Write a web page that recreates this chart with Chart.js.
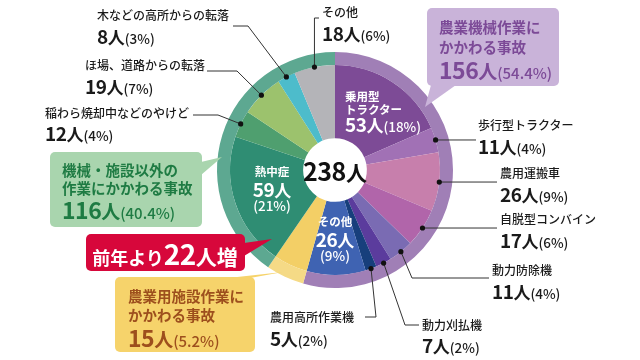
<!DOCTYPE html>
<html lang="ja">
<head>
<meta charset="utf-8">
<script src="https://cdn.jsdelivr.net/npm/chart.js@4.4.1/dist/chart.umd.min.js"></script>
<style>
  html, body { margin: 0; padding: 0; background: #fff; }
  #wrap { position: relative; width: 640px; height: 360px; overflow: hidden; font-family: "Noto Sans CJK JP", "Noto Sans", sans-serif; }
  #c { position: absolute; left: 0; top: 0; }
  .ln { position: absolute; white-space: nowrap; line-height: 1; color: #1a1a1a; }
  .nm { font-size: 12px; font-weight: 500; }
  .vl .n { font-size: 19px; font-weight: 700; letter-spacing: -0.5px; }
  .vl .u { font-size: 17px; font-weight: 700; }
  .vl .p { font-size: 13.5px; font-weight: 500; }
  .wh { color: #fff; }
  .wh.nm { font-size: 11.5px; font-weight: 700; }
  .big .n { font-size: 23px; font-weight: 700; letter-spacing: -0.5px; }
  .big .u { font-size: 19px; font-weight: 700; }
  .big .p { font-size: 15px; font-weight: 500; }
  .bx { font-size: 14.5px; font-weight: 700; }
</style>
</head>
<body>
<div id="wrap"><canvas id="c" width="640" height="360" style="width:640px;height:360px"></canvas></div>
<script>
// outer ring: 3 groups
const groupNames = [['農業機械作業に', 'かかわる事故'], ['農業用施設作業に', 'かかわる事故'], ['機械・施設以外の', '作業にかかわる事故']];
const groupValues = [156, 15, 116];
const groupPct = ['54.4%', '5.2%', '40.4%'];

// inner ring: items
const itemLabels = ['乗用型トラクター', '歩行型トラクター', '農用運搬車', '自脱型コンバイン', '動力防除機', '動力刈払機', '農用高所作業機', 'その他',
  '農業用施設作業', '熱中症', '稲わら焼却中などのやけど', 'ほ場、道路からの転落', '木などの高所からの転落', 'その他'];
const itemValues = [53, 11, 26, 17, 11, 7, 5, 26, 15, 59, 12, 19, 8, 18];
const itemPct = ['18%', '4%', '9%', '6%', '4%', '2%', '2%', '9%', '5.2%', '21%', '4%', '7%', '3%', '6%'];

const totalText = '238人';
const changeText = ['前年より', '22', '人増'];

const ringColors = ['#a07fb6', '#f5da86', '#5da891'];
const itemColors = ['#7d4b96', '#a171b5', '#c77fac', '#b165aa', '#7a6bb3', '#5b3c9d', '#173f7c', '#3f63b2',
  '#f3cf66', '#2f8d73', '#4f9f6f', '#9cc26d', '#4dbccb', '#b4b4b8'];

// leader lines: waypoints from dot outwards (null x/y = use dot coordinate)
const leaders = [
  { i: 1, pts: [[476, null]] },
  { i: 2, pts: [[497, null]] },
  { i: 3, pts: [[497, null]] },
  { i: 4, pts: [[412, 278], [489, 278]] },
  { i: 5, pts: [[405, 325], [419, 325]] },
  { i: 6, pts: [[376, 317], [365, 317]] },
  { i: 10, pts: [[218, 115], [193, 115]] },
  { i: 11, pts: [[237, 71], [207, 71]] },
  { i: 12, pts: [[248, 26], [233, 26]] },
  { i: 13, pts: [[null, 18], [319, 18]] }
];

const outerLayout = [
  { i: 1, x: 478, ny: 125, vy: 146 },
  { i: 2, x: 500, ny: 173, vy: 194 },
  { i: 3, x: 500, ny: 219, vy: 240 },
  { i: 4, x: 492, ny: 270, vy: 291 },
  { i: 5, x: 422, ny: 325, vy: 345 },
  { i: 6, x: 270, ny: 317, vy: 338 },
  { i: 10, x: 45, ny: 113, vy: 133 },
  { i: 11, x: 85, ny: 65, vy: 86 },
  { i: 12, x: 97, ny: 15, vy: 36 },
  { i: 13, x: 322, ny: 12, vy: 33 }
];

const boxes = [
  { g: 0, fill: '#c9b3d9', color: '#7c4a97', r: [427, 8, 132, 78], tail: [[431, 85], [456, 85], [425, 107]], x: 439, ys: [27, 47, 69] },
  { g: 2, fill: '#a9d5ae', color: '#1e7b43', r: [50, 152, 152, 75], tail: [[201, 162], [201, 175], [222, 157]], x: 62, ys: [170, 188, 209] },
  { g: 1, fill: '#f6d36b', color: '#9d4f1d', r: [115, 277, 140, 75], tail: [[228, 278], [250, 278], [283, 272]], x: 128, ys: [296, 315, 337] }
];
const redBox = { fill: '#d7073b', r: [86, 234, 159, 37], tail: [[244, 243], [244, 256], [272, 239]] };

function roundRect(ctx, x, y, w, h, rad) {
  ctx.beginPath();
  ctx.moveTo(x + rad, y);
  ctx.arcTo(x + w, y, x + w, y + h, rad);
  ctx.arcTo(x + w, y + h, x, y + h, rad);
  ctx.arcTo(x, y + h, x, y, rad);
  ctx.arcTo(x, y, x + w, y, rad);
  ctx.closePath();
  ctx.fill();
}

function drawBox(ctx, b) {
  ctx.fillStyle = b.fill;
  roundRect(ctx, b.r[0], b.r[1], b.r[2], b.r[3], 5);
  ctx.beginPath();
  ctx.moveTo(b.tail[0][0], b.tail[0][1]);
  ctx.lineTo(b.tail[2][0], b.tail[2][1]);
  ctx.lineTo(b.tail[1][0], b.tail[1][1]);
  ctx.closePath();
  ctx.fill();
}

const annotate = {
  id: 'annotate',
  afterDraw(chart) {
    const ctx = chart.ctx;
    const arcs = chart.getDatasetMeta(1).data;
    ctx.save();
    leaders.forEach(l => {
      const a = arcs[l.i].getProps(['x', 'y', 'startAngle', 'endAngle', 'outerRadius'], true);
      const mid = (a.startAngle + a.endAngle) / 2;
      const dx = a.x + Math.cos(mid) * a.outerRadius;
      const dy = a.y + Math.sin(mid) * a.outerRadius;
      ctx.strokeStyle = '#333';
      ctx.lineWidth = 1;
      ctx.beginPath();
      ctx.moveTo(dx, dy);
      l.pts.forEach(p => ctx.lineTo(p[0] === null ? dx : p[0], p[1] === null ? dy : p[1]));
      ctx.stroke();
      ctx.fillStyle = '#111';
      ctx.beginPath();
      ctx.arc(dx, dy, 2.6, 0, Math.PI * 2);
      ctx.fill();
    });
    boxes.forEach(b => drawBox(ctx, b));
    drawBox(ctx, redBox);
    ctx.restore();
  }
};

new Chart(document.getElementById('c'), {
  type: 'doughnut',
  data: {
    labels: itemLabels,
    datasets: [
      { data: groupValues, backgroundColor: ringColors, weight: 13 },
      { data: itemValues, backgroundColor: itemColors, weight: 73 }
    ]
  },
  options: {
    responsive: false,
    animation: false,
    events: [],
    cutout: '27%',
    layout: { padding: { left: 217, right: 187, top: 52, bottom: 72 } },
    elements: { arc: { borderWidth: 0, hoverOffset: 0 } },
    plugins: { legend: { display: false }, tooltip: { enabled: false } }
  },
  plugins: [annotate]
});

// text
const wrap = document.getElementById('wrap');
function place(html, x, cy, cls, center, color) {
  const d = document.createElement('div');
  d.className = 'ln ' + cls;
  d.innerHTML = html;
  d.style.left = x + 'px';
  d.style.top = cy + 'px';
  d.style.transform = center ? 'translate(-50%,-50%)' : 'translateY(-50%)';
  if (color) d.style.color = color;
  wrap.appendChild(d);
}
const val = (v, pct) => `<span class="n">${v}</span><span class="u">人</span><span class="p">(${pct})</span>`;

outerLayout.forEach(o => {
  place(itemLabels[o.i], o.x, o.ny, 'nm');
  place(val(itemValues[o.i], itemPct[o.i]), o.x, o.vy, 'vl');
});

// white labels inside slices
place(itemLabels[0].slice(0, 3), 345, 97, 'nm wh');
place(itemLabels[0].slice(3), 345, 110, 'nm wh');
place(val(itemValues[0], itemPct[0]), 345, 124, 'vl wh');

place(itemLabels[9], 272, 172, 'nm wh', true);
place(`<span class="n">${itemValues[9]}</span><span class="u">人</span>`, 272, 188, 'vl wh', true);
place(`<span class="p">(${itemPct[9]})</span>`, 272, 204, 'vl wh', true);

place(itemLabels[7], 335, 222, 'nm wh', true);
place(`<span class="n">${itemValues[7]}</span><span class="u">人</span>`, 335, 238, 'vl wh', true);
place(`<span class="p">(${itemPct[7]})</span>`, 335, 254, 'vl wh', true);

// centre total
place(`<span style="font-size:25px;font-weight:700;letter-spacing:-0.5px">${totalText.slice(0, -1)}</span><span style="font-size:21px;font-weight:700">${totalText.slice(-1)}</span>`, 335, 170, '', true, '#111');

// callout boxes
boxes.forEach(b => {
  place(groupNames[b.g][0], b.x, b.ys[0], 'bx', false, b.color);
  place(groupNames[b.g][1], b.x, b.ys[1], 'bx', false, b.color);
  place(val(groupValues[b.g], groupPct[b.g]), b.x, b.ys[2], 'big', false, b.color);
});

place(`<span style="font-size:18px;font-weight:700">${changeText[0]}</span><span style="font-size:28px;font-weight:700;letter-spacing:-0.5px">${changeText[1]}</span><span style="font-size:21px;font-weight:700">${changeText[2]}</span>`, 165, 253, '', true, '#fff');
</script>
</body>
</html>
